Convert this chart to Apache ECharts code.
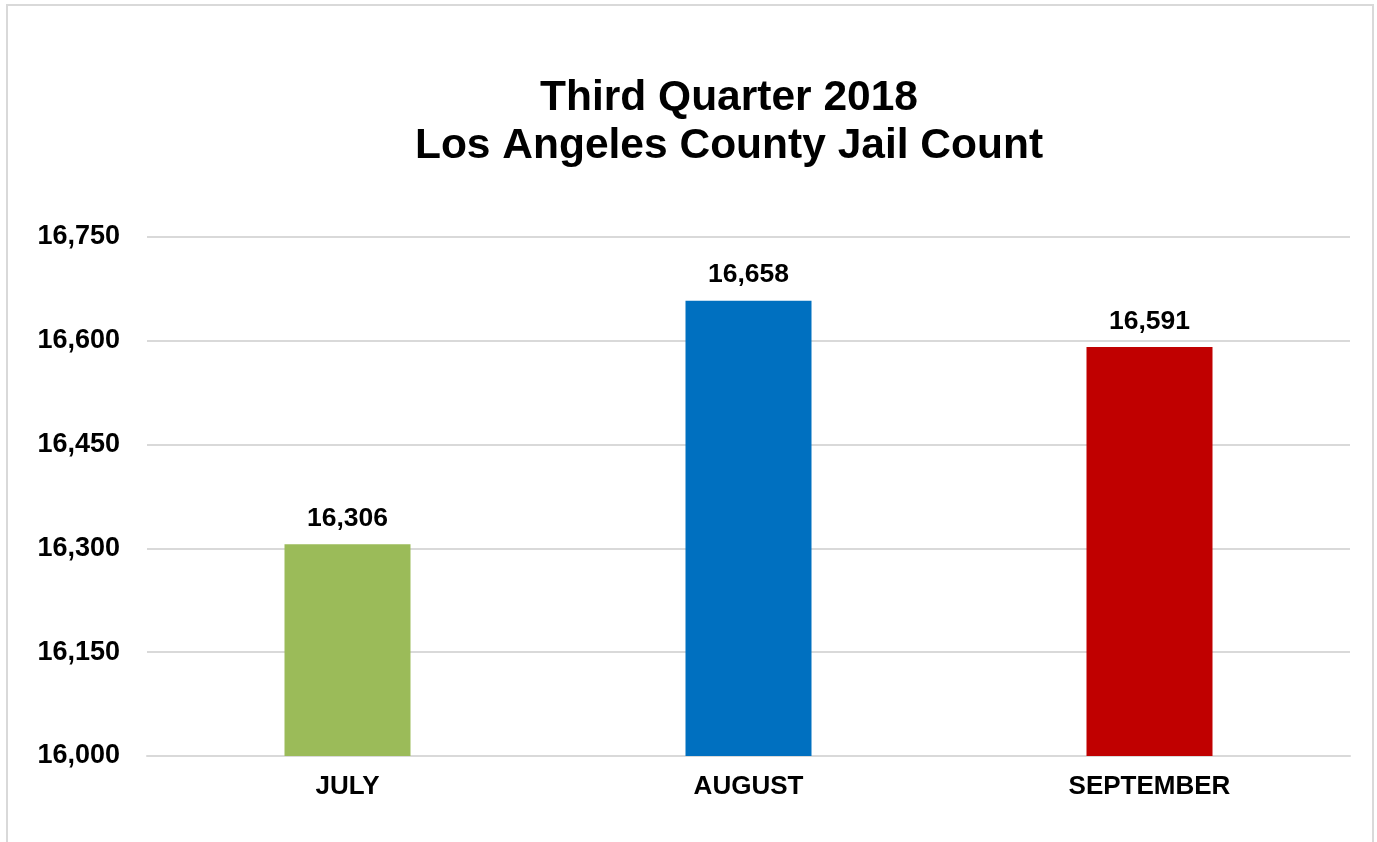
<!DOCTYPE html>
<html>
<head>
<meta charset="utf-8">
<script src="https://cdn.jsdelivr.net/npm/echarts@6/dist/echarts.min.js"></script>
<style>
html,body{margin:0;padding:0;background:#fff;}
#c{width:1377px;height:842px;}
</style>
</head>
<body>
<div id="c"></div>
<script>
const categories = ['JULY', 'AUGUST', 'SEPTEMBER'];
const jailCounts = [16306, 16658, 16591];
const barColors = ['#9bbb59', '#0070c0', '#c00000'];
const titleLines = ['Third Quarter 2018', 'Los Angeles County Jail Count'];

const fmt = v => v.toLocaleString('en-US');
const FONT = '"Liberation Sans", Arial, sans-serif';

const chart = echarts.init(document.getElementById('c'));
chart.setOption({
  backgroundColor: '#fff',
  animation: false,
  title: {
    text: titleLines.join('\n'),
    left: 724,
    textAlign: 'center',
    top: 69,
    textStyle: {
      fontFamily: FONT,
      fontSize: 42.5,
      fontWeight: 'bold',
      color: '#000',
      lineHeight: 48
    }
  },
  graphic: [{
    type: 'rect',
    shape: { x: 7, y: 5, width: 1366, height: 880 },
    style: { fill: 'none', stroke: '#d9d9d9', lineWidth: 2 },
    silent: true
  }],
  grid: { left: 147, right: 27, top: 237, bottom: 86 },
  xAxis: {
    type: 'category',
    data: categories,
    axisTick: { show: false },
    axisLine: { lineStyle: { color: '#d9d9d9', width: 2 } },
    axisLabel: {
      color: '#000',
      fontFamily: FONT,
      fontSize: 26,
      fontWeight: 'bold',
      margin: 18
    }
  },
  yAxis: {
    type: 'value',
    min: 16000,
    max: 16750,
    interval: 150,
    axisLine: { show: false },
    axisTick: { show: false },
    splitLine: { lineStyle: { color: '#d9d9d9', width: 2 } },
    axisLabel: {
      color: '#000',
      fontFamily: FONT,
      fontSize: 27,
      fontWeight: 'bold',
      margin: 27,
      formatter: v => fmt(v)
    }
  },
  series: [{
    type: 'bar',
    barWidth: 126,
    data: jailCounts.map((v, i) => ({ value: v, itemStyle: { color: barColors[i] } })),
    label: {
      show: true,
      position: 'top',
      distance: 12,
      color: '#000',
      fontFamily: FONT,
      fontSize: 26.5,
      fontWeight: 'bold',
      formatter: p => fmt(p.value)
    }
  }]
});
</script>
</body>
</html>
